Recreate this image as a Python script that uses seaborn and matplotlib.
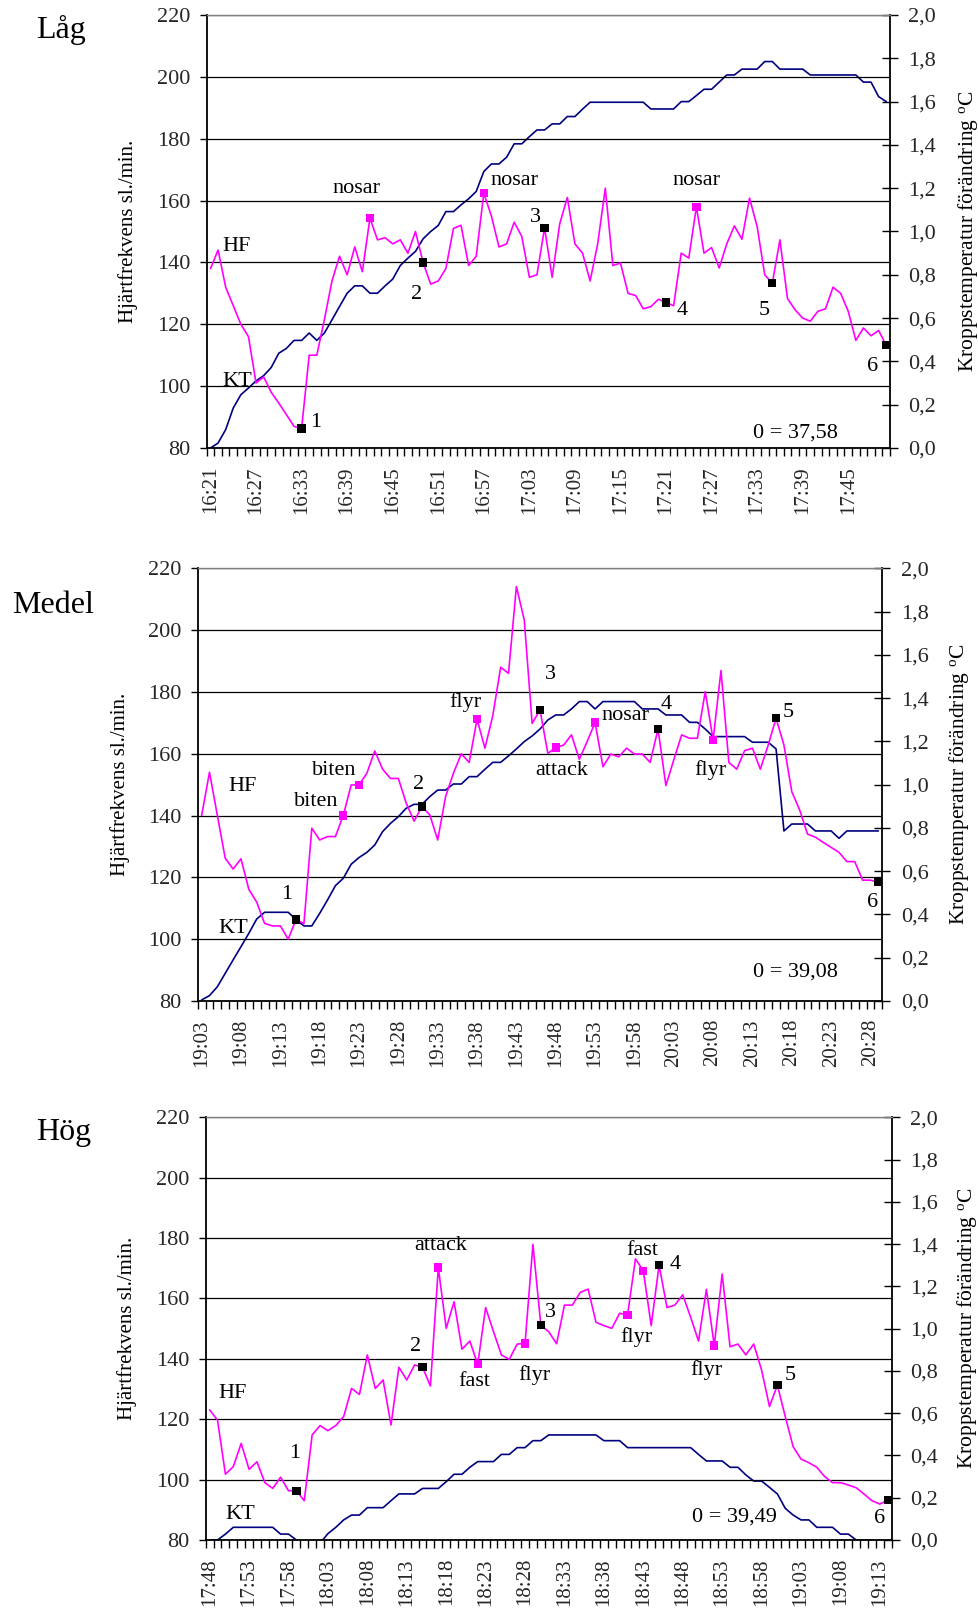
import numpy as np
import pandas as pd
import matplotlib
matplotlib.use("Agg")
import matplotlib.pyplot as plt
import seaborn as sns
from matplotlib.ticker import FixedLocator, MultipleLocator, FuncFormatter

# ---------------- DATA ----------------
# Panel "Låg"
hf_lag = [138, 144, 132, 126, 120, 116, 101, 103, 98, 94.5, 90.8, 87, 86.3, 110, 110, 121.5, 134, 142, 136, 145,
          137, 154.3, 147.3, 148, 146, 147.3, 143, 150, 140, 133, 134, 138, 151, 152, 139, 142, 162.4, 155, 145, 146,
          153, 148.4, 135.2, 136, 151.2, 135.2, 152.5, 161, 146, 143, 134, 146, 164, 139, 139.8, 130, 129.3, 125, 125.7, 128.1,
          127, 126, 143, 141.4, 158, 143, 144.8, 138.2, 146, 151.8, 147.5, 160.8, 151.6, 136, 133.3, 147.3, 128.3, 124.7, 122, 121,
          124.2, 125, 132, 130, 124.2, 114.8, 118.8, 116.3, 118, 113.2]
kt_lag = [0.0, 0.023, 0.085, 0.185, 0.246, 0.277, 0.31, 0.334, 0.372, 0.438, 0.46, 0.497, 0.497, 0.531, 0.497, 0.531,
          0.592, 0.654, 0.715, 0.749, 0.749, 0.715, 0.715, 0.749, 0.78, 0.843, 0.877, 0.908, 0.966, 1.0, 1.028, 1.092,
          1.092, 1.123, 1.151, 1.185, 1.277, 1.312, 1.312, 1.343, 1.405, 1.405, 1.438, 1.469, 1.469, 1.497, 1.497, 1.531,
          1.531, 1.565, 1.597, 1.597, 1.597, 1.597, 1.597, 1.597, 1.597, 1.597, 1.566, 1.566, 1.566, 1.566, 1.6, 1.6,
          1.628, 1.657, 1.657, 1.69, 1.723, 1.723, 1.75, 1.75, 1.75, 1.785, 1.785, 1.75, 1.75, 1.75, 1.75, 1.723, 1.723,
          1.723, 1.723, 1.723, 1.723, 1.723, 1.69, 1.69, 1.623, 1.6]
ev_black_lag = [12, 28, 44, 60, 74, 89]
ev_mag_lag = [21, 36, 64]
ticks_lag = ["16:21", "16:27", "16:33", "16:39", "16:45", "16:51", "16:57", "17:03", "17:09", "17:15",
             "17:21", "17:27", "17:33", "17:39", "17:45"]

# Panel "Medel"
hf_medel = [140, 154, 140, 126.2, 122.7, 126, 116.1, 112, 105.1, 104.3, 104.3, 100, 106.4, 105, 135.9, 132.1, 133.2,
            133.2, 140, 149.9, 149.9, 153.7, 160.9, 155, 152, 152, 144, 138.2, 142.9, 140.2, 132.1, 146.1, 153.7, 160,
            157.2, 171.2, 161.8, 172.3, 188, 186, 214.1, 203.3, 169.8, 174.2, 160.1, 162, 162.8, 166.1, 158.2, 164,
            170.1, 155.8, 159.9, 159, 161.8, 159.9, 159.9, 157.2, 168, 149.7, 158, 166.1, 165, 165, 180.1, 164.5, 186.9,
            157.2, 155, 161, 161.8, 155, 162.8, 171.5, 162.8, 147.7, 141.8, 134, 133, 131.3, 129.7, 128.1, 125.1, 125.1,
            119.1, 119.1, 118.4]
kt_medel = [0.005, 0.025, 0.066, 0.128, 0.19, 0.251, 0.313, 0.379, 0.41, 0.41, 0.41, 0.41, 0.377, 0.347, 0.347, 0.405,
            0.467, 0.533, 0.567, 0.632, 0.663, 0.687, 0.721, 0.783, 0.821, 0.852, 0.891, 0.909, 0.909, 0.945, 0.975,
            0.975, 1.003, 1.003, 1.037, 1.037, 1.071, 1.103, 1.103, 1.133, 1.165, 1.199, 1.225, 1.257, 1.299, 1.322,
            1.322, 1.35, 1.384, 1.384, 1.35, 1.384, 1.384, 1.384, 1.384, 1.384, 1.35, 1.35, 1.35, 1.322, 1.322, 1.322,
            1.288, 1.288, 1.257, 1.222, 1.222, 1.222, 1.222, 1.222, 1.196, 1.196, 1.196, 1.165, 0.786, 0.818, 0.818,
            0.818, 0.786, 0.786, 0.786, 0.752, 0.786, 0.786, 0.786, 0.786, 0.786]
ev_black_medel = [12, 28, 43, 58, 73, 86]
ev_mag_medel = [18, 20, 35, 45, 50, 65]
ticks_medel = ["19:03", "19:08", "19:13", "19:18", "19:23", "19:28", "19:33", "19:38", "19:43", "19:48",
               "19:53", "19:58", "20:03", "20:08", "20:13", "20:18", "20:23", "20:28"]

# Panel "Hög"
hf_hog = [123.1, 119.7, 101.8, 104.3, 112, 103.4, 105.9, 99, 97.1, 100.8, 96.3, 96.3, 93, 114.8, 117.9, 116.2, 117.9,
          120.9, 130.2, 128.2, 141.3, 130.2, 133, 118.1, 137.2, 133, 138, 137.2, 131, 170.2, 150.1, 158.9, 143.2, 145.9,
          138.2, 157, 149, 141.3, 139.8, 144.9, 145.1, 177.9, 151.2, 149, 145, 157.8, 157.8, 162, 163.1, 152.1, 151,
          150.1, 155.1, 154.5, 173.1, 169.2, 151, 171.1, 157, 157.8, 161.2, 153.8, 145.9, 163, 144.4, 168.1, 144, 144.9,
          141.3, 144.9, 136.3, 124.2, 131.3, 120.9, 110.9, 106.8, 105.6, 104.1, 101, 99, 99, 98.2, 97.3, 95.2, 93, 91.9,
          93.2]
kt_hog = [0, 0, 0.028, 0.06, 0.06, 0.06, 0.06, 0.06, 0.06, 0.028, 0.028, 0, -0.03, -0.03, -0.015, 0.03, 0.06, 0.095,
          0.118, 0.118, 0.153, 0.153, 0.153, 0.186, 0.218, 0.218, 0.218, 0.244, 0.244, 0.244, 0.276, 0.311, 0.311,
          0.344, 0.371, 0.371, 0.371, 0.405, 0.405, 0.437, 0.437, 0.47, 0.47, 0.497, 0.497, 0.497, 0.497, 0.497, 0.497,
          0.497, 0.47, 0.47, 0.47, 0.437, 0.437, 0.437, 0.437, 0.437, 0.437, 0.437, 0.437, 0.437, 0.405, 0.374, 0.374,
          0.374, 0.344, 0.344, 0.308, 0.279, 0.279, 0.249, 0.218, 0.15, 0.118, 0.095, 0.095, 0.06, 0.06, 0.06, 0.028,
          0.028, 0, 0, 0, -0.02, -0.02]
ev_black_hog = [11, 27, 42, 57, 72, 86]
ev_mag_hog = [29, 34, 40, 53, 55, 64]
ticks_hog = ["17:48", "17:53", "17:58", "18:03", "18:08", "18:13", "18:18", "18:23", "18:28", "18:33",
             "18:38", "18:43", "18:48", "18:53", "18:58", "19:03", "19:08", "19:13"]

titles = ["Låg", "Medel", "Hög"]
baselines = ["0 = 37,58", "0 = 39,08", "0 = 39,49"]

# annotation texts (text, x-index, HF-level, horizontal alignment)
notes_lag = [("HF", 1.5, 145, "left"), ("KT", 1.6, 101.4, "left"),
             ("nosar", 19.2, 164, "center"), ("nosar", 40.1, 166.6, "center"), ("nosar", 64.0, 166.6, "center"),
             ("1", 13.9, 88.4, "center"), ("2", 27.2, 129.5, "center"), ("3", 42.8, 154.4, "center"),
             ("4", 62.1, 124.6, "center"), ("5", 72.9, 124.6, "center"), ("6", 87.2, 106.5, "center")]
notes_medel = [("HF", 3.4, 149.5, "left"), ("KT", 2.1, 103.6, "left"),
               ("biten", 16.8, 154.5, "center"), ("biten", 14.5, 144.5, "center"), ("flyr", 33.5, 176.8, "center"),
               ("attack", 45.8, 154.7, "center"), ("nosar", 53.9, 172.5, "center"), ("flyr", 64.6, 154.7, "center"),
               ("1", 10.8, 114.3, "center"), ("2", 27.6, 149.9, "center"), ("3", 44.3, 185.8, "center"),
               ("4", 59.0, 175.8, "center"), ("5", 74.5, 173.3, "center"), ("6", 85.3, 111.9, "center")]
notes_hog = [("HF", 1.1, 128.6, "left"), ("KT", 1.95, 88.3, "left"),
             ("attack", 29.3, 177.5, "center"), ("fast", 33.5, 132.4, "center"), ("flyr", 41.2, 134.6, "center"),
             ("fast", 54.9, 176.0, "center"), ("flyr", 54.1, 147.3, "center"), ("flyr", 63.0, 136.3, "center"),
             ("1", 10.8, 108.7, "center"), ("2", 26.1, 144.0, "center"), ("3", 43.2, 155.4, "center"),
             ("4", 59.0, 171.3, "center"), ("5", 73.6, 134.6, "center"), ("6", 84.9, 87.2, "center")]

# ---------------- STYLE / LAYOUT ----------------
sns.set_theme(style="white")
plt.rcParams["font.family"] = ["Liberation Serif", "DejaVu Serif"]
plt.rcParams["mathtext.fontset"] = "custom"
plt.rcParams["mathtext.rm"] = "Liberation Serif"
plt.rcParams["mathtext.it"] = "Liberation Serif:italic"

W, H = 979, 1616
fig = plt.figure(figsize=(W / 100, H / 100), dpi=100)

# axes boxes in pixels: left, right, top, bottom
boxes = [(206.7, 890.0, 15.0, 448.0), (197.7, 882.3, 568.3, 1001.0), (205.7, 891.7, 1117.3, 1540.0)]
title_pos = [(36, 37.7), (11.7, 613), (36, 1140)]
ylab_left = [-0.101, -0.099, -0.100]
ylab_right = [1.097, 1.094, 1.092]
note_pos0 = [(77.0, 84.8), (75.4, 89.5), (66.5, 87.7)]

panels = [
    (hf_lag, kt_lag, ev_black_lag, ev_mag_lag, ticks_lag, 6, notes_lag),
    (hf_medel, kt_medel, ev_black_medel, ev_mag_medel, ticks_medel, 5, notes_medel),
    (hf_hog, kt_hog, ev_black_hog, ev_mag_hog, ticks_hog, 5, notes_hog),
]

HF_COL = "#FF00FF"
KT_COL = "#000080"

for i, (hf, kt, evb, evm, tlabels, step, notes) in enumerate(panels):
    l, r, t, b = boxes[i]
    ax = fig.add_axes([l / W, 1 - b / H, (r - l) / W, (b - t) / H])
    ax2 = ax.twinx()
    n = len(hf)
    df = pd.DataFrame({"idx": np.arange(n), "HF": hf, "KT": kt})

    sns.lineplot(data=df, x="idx", y="KT", ax=ax2, color=KT_COL, lw=1.2, estimator=None)
    sns.lineplot(data=df, x="idx", y="HF", ax=ax, color=HF_COL, lw=1.2, estimator=None)
    sns.scatterplot(data=df.iloc[evm], x="idx", y="HF", ax=ax, color=HF_COL, marker="s", s=36,
                    edgecolor="none", zorder=5)
    sns.scatterplot(data=df.iloc[evb], x="idx", y="HF", ax=ax, color="black", marker="s", s=36,
                    edgecolor="none", zorder=6)

    ax.set_zorder(ax2.get_zorder() + 1)
    ax.patch.set_visible(False)

    ax.set_xlim(-0.5, n - 0.5)
    ax.set_ylim(80, 220)
    ax2.set_ylim(0, 2.0)

    ax.yaxis.set_major_locator(MultipleLocator(20))
    ax.grid(axis="y", color="black", lw=0.9)
    ax.grid(axis="x", visible=False)
    ax2.grid(False)
    ax2.yaxis.set_major_locator(MultipleLocator(0.2))
    ax2.yaxis.set_major_formatter(FuncFormatter(lambda v, p: f"{v:.1f}".replace(".", ",")))

    ax.set_xticks(np.arange(0, len(tlabels) * step, step))
    ax.set_xticklabels(tlabels, rotation=90)
    ax.xaxis.set_minor_locator(FixedLocator(np.arange(-0.5, n, 1.0)))
    ax.tick_params(axis="x", which="major", length=0, pad=13, labelsize=15)
    ax.tick_params(axis="x", which="minor", direction="out", length=5.5, width=1, color="black", bottom=True)
    ax.tick_params(axis="y", which="major", direction="out", length=5, width=1, color="black", pad=7,
                   labelsize=16, left=True)
    ax2.tick_params(axis="y", which="major", direction="inout", length=11, width=1, color="black", pad=7.7,
                    labelsize=16, right=True)

    for sp in ["left", "bottom"]:
        ax.spines[sp].set_color("black")
        ax.spines[sp].set_linewidth(1.3)
    ax.spines["top"].set_color("#808080")
    ax.spines["top"].set_linewidth(1.0)
    ax.spines["right"].set_visible(False)
    ax2.spines["right"].set_color("black")
    ax2.spines["right"].set_linewidth(1.3)
    for sp in ["left", "top", "bottom"]:
        ax2.spines[sp].set_visible(False)

    ax.set_xlabel("")
    ax.set_ylabel("Hjärtfrekvens sl./min.", fontsize=15, color="black")
    ax.yaxis.set_label_coords(ylab_left[i], 0.5)
    ax2.set_ylabel("Kroppstemperatur förändring $^{\\mathrm{o}}$C", fontsize=15.5, color="black")
    ax2.yaxis.set_label_coords(ylab_right[i], 0.5)

    for (txt, xi, yv, ha) in notes:
        ax.text(xi, yv, txt, ha=ha, va="center", fontsize=16, color="black", zorder=7)
    ax.text(note_pos0[i][0], note_pos0[i][1], baselines[i], ha="center", va="center", fontsize=16,
            color="black", zorder=7)

    fig.text(title_pos[i][0] / W, 1 - title_pos[i][1] / H, titles[i], fontsize=23, ha="left",
             va="baseline", color="black")

fig.savefig("out.png", dpi=100)
